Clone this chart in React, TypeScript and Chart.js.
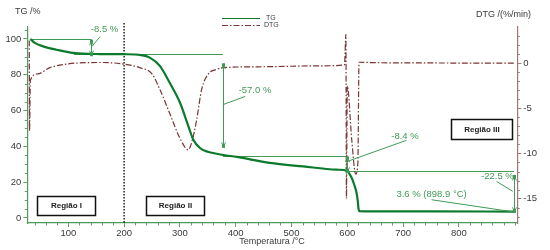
import React, { useEffect, useRef } from "react";
import { Chart, registerables } from "chart.js";
Chart.register(...registerables);

// ---- data ----
const tgTemp = [32, 40, 55, 79, 109, 157, 200, 230, 246, 264, 282, 300, 315, 324, 336, 350, 366, 378, 402, 461, 521, 581, 599, 603, 608, 612, 616, 619, 620, 621.5, 650, 750, 898.9];
const tgVal = [100, 97.8, 95.9, 94, 92.2, 91.6, 91.5, 91.0, 89.6, 85, 75.4, 64.5, 51.5, 43.7, 39.1, 37, 35.9, 35.2, 34.1, 30.8, 28.8, 27.0, 26.4, 25, 22.3, 19, 14.9, 9, 5.5, 3.8, 3.7, 3.65, 3.6];

const dtgTemp = [30, 30.5, 32, 45, 67, 97, 130, 157, 199, 228, 250, 264, 282, 300, 315, 321, 330, 339, 351, 365, 378, 450, 550, 595, 597.5, 598.5, 600, 608, 615, 619, 621, 650, 750, 850, 898.9];
const dtgVal = [2.5, -7.5, -1.9, -1.2, -0.5, -0.1, 0.05, 0.07, -0.1, -0.5, -1.2, -2.9, -5.6, -8.3, -9.6, -8.8, -6.3, -2.9, -1.2, -0.7, -0.5, -0.4, -0.3, -0.2, 3.2, -15.0, -2.5, -8.5, -12.3, -11, 0.1, 0.05, 0.02, 0.0, 0.0];

const xMajor = [100, 200, 300, 400, 500, 600, 700, 800];
const xMinor = [40, 60, 80, 120, 140, 160, 180, 220, 240, 260, 280, 320, 340, 360, 380, 420, 440, 460, 480, 520, 540, 560, 580, 620, 640, 660, 680, 720, 740, 760, 780, 820, 840, 860, 880, 900];
const yMajor = [0, 20, 40, 60, 80, 100];
const yMinor = [5, 10, 15, 25, 30, 35, 45, 50, 55, 65, 70, 75, 85, 90, 95, 105];
const y2Major = [-15, -10, -5, 0];
const y2Minor = [-17, -16, -14, -13, -12, -11, -9, -8, -7, -6, -4, -3, -2, -1, 1, 2, 3];

// region boxes (temperature range, TG % range)
const regionLabels = ["Região I", "Região II", "Região III"];
const regionX1 = [43, 239, 786];
const regionX2 = [148, 343, 895];
const regionY1 = [1.5, 1.5, 44.1];
const regionY2 = [12.4, 12.4, 55.3];

// horizontal step lines (temperature from, to, TG %)
const stepX1 = [32, 110, 377, 600];
const stepX2 = [142, 377, 600, 898.9];
const stepY = [100, 91.7, 34.4, 26.4];

// vertical arrows (temperature, TG % from, to)
const arrowX = [140, 377, 600, 898.9];
const arrowY1 = [98.7, 85.6, 33.5, 23.2];
const arrowY2 = [91.2, 40, 26.0, 3.7];

// annotation texts and leader lines
const noteText = ["-8.5 %", "-57.0 %", "-8.4 %", "-22.5 %", "3.6 % (898.9 °C)"];
const noteX = [165, 434.6, 703.4, 869, 751];
const noteY = [105.2, 71.3, 45.6, 23.2, 13.0];
const leadX1 = [142, 377, 600, 867.7, 751];
const leadY1 = [95.8, 63.3, 31.6, 20.4, 10.2];
const leadX2 = [157, 417, 706, 896.5, 897.5];
const leadY2 = [101.3, 67.9, 43.4, 14.9, 3.4];

const boundaryT = 200;

const GREEN = "#0b7a2c";
const ANN = "#3f9a55";
const MAROON = "#7a3535";
const RAXIS = "#a07575";
const TXT = "#3a3a3a";
const FONT = "Liberation Sans, Arial, sans-serif";

function arrowHead(ctx: CanvasRenderingContext2D, x: number, y: number, dir: number) {
  ctx.beginPath();
  ctx.moveTo(x - 2, y - dir * 4);
  ctx.lineTo(x, y);
  ctx.lineTo(x + 2, y - dir * 4);
  ctx.stroke();
}

const annPlugin = {
  id: "ann",
  beforeDatasetsDraw(chart: any) {
    const ctx = chart.ctx;
    const x = chart.scales.x;
    const y = chart.scales.y;
    ctx.save();
    ctx.strokeStyle = "#111";
    ctx.lineWidth = 1.4;
    ctx.setLineDash([1.5, 1.5]);
    const px = x.getPixelForValue(boundaryT);
    ctx.beginPath();
    ctx.moveTo(px, chart.chartArea.top - 4);
    ctx.lineTo(px, chart.chartArea.bottom);
    ctx.stroke();
    ctx.setLineDash([]);
    ctx.strokeStyle = ANN;
    ctx.lineWidth = 1;
    for (let i = 0; i < stepY.length; i++) {
      const yy = Math.round(y.getPixelForValue(stepY[i])) + 0.5;
      ctx.beginPath();
      ctx.moveTo(x.getPixelForValue(stepX1[i]), yy);
      ctx.lineTo(x.getPixelForValue(stepX2[i]), yy);
      ctx.stroke();
    }
    ctx.restore();
  },
  afterDatasetsDraw(chart: any) {
    const ctx = chart.ctx;
    const x = chart.scales.x;
    const y = chart.scales.y;
    const y2 = chart.scales.y2;
    ctx.save();
    ctx.strokeStyle = ANN;
    ctx.fillStyle = ANN;
    ctx.lineWidth = 1;
    for (let i = 0; i < arrowX.length; i++) {
      const ax = Math.round(x.getPixelForValue(arrowX[i])) + 0.5;
      const a1 = y.getPixelForValue(arrowY1[i]);
      const a2 = y.getPixelForValue(arrowY2[i]);
      ctx.beginPath();
      ctx.moveTo(ax, a1);
      ctx.lineTo(ax, a2);
      ctx.stroke();
      arrowHead(ctx, ax, a1, -1);
      arrowHead(ctx, ax, a2, 1);
      ctx.fillRect(ax - 1.5, a1 - 1.5, 3, 3);
      ctx.fillRect(ax - 1.5, a2 - 1.5, 3, 3);
    }
    for (let i = 0; i < leadX1.length; i++) {
      ctx.beginPath();
      ctx.moveTo(x.getPixelForValue(leadX1[i]), y.getPixelForValue(leadY1[i]));
      ctx.lineTo(x.getPixelForValue(leadX2[i]), y.getPixelForValue(leadY2[i]));
      ctx.stroke();
    }
    ctx.font = `9.5px ${FONT}`;
    ctx.textAlign = "center";
    ctx.textBaseline = "middle";
    for (let i = 0; i < noteText.length; i++) {
      ctx.fillText(noteText[i], x.getPixelForValue(noteX[i]), y.getPixelForValue(noteY[i]));
    }
    ctx.font = `bold 8px ${FONT}`;
    for (let i = 0; i < regionLabels.length; i++) {
      const bx1 = Math.round(x.getPixelForValue(regionX1[i])) + 0.5;
      const bx2 = Math.round(x.getPixelForValue(regionX2[i])) + 0.5;
      const by1 = Math.round(y.getPixelForValue(regionY2[i])) + 0.5;
      const by2 = Math.round(y.getPixelForValue(regionY1[i])) + 0.5;
      ctx.fillStyle = "#fff";
      ctx.fillRect(bx1, by1, bx2 - bx1, by2 - by1);
      ctx.strokeStyle = "#111";
      ctx.lineWidth = 1.5;
      ctx.strokeRect(bx1, by1, bx2 - bx1, by2 - by1);
      ctx.fillStyle = "#222";
      ctx.fillText(regionLabels[i], (bx1 + bx2) / 2, (by1 + by2) / 2);
    }
    ctx.lineWidth = 1;
    ctx.strokeStyle = "#6a9a70";
    const xb = chart.chartArea.bottom;
    for (const v of xMinor) {
      const p = Math.round(x.getPixelForValue(v)) + 0.5;
      ctx.beginPath(); ctx.moveTo(p, xb); ctx.lineTo(p, xb + 2.5); ctx.stroke();
    }
    const yl = chart.chartArea.left;
    for (const v of yMinor) {
      const p = Math.round(y.getPixelForValue(v)) + 0.5;
      ctx.beginPath(); ctx.moveTo(yl, p); ctx.lineTo(yl - 2.5, p); ctx.stroke();
    }
    ctx.strokeStyle = RAXIS;
    const yr = chart.chartArea.right;
    for (const v of y2Minor) {
      const p = Math.round(y2.getPixelForValue(v)) + 0.5;
      ctx.beginPath(); ctx.moveTo(yr, p); ctx.lineTo(yr + 2.5, p); ctx.stroke();
    }
    ctx.fillStyle = TXT;
    ctx.font = `9px ${FONT}`;
    ctx.textBaseline = "middle";
    ctx.textAlign = "left";
    ctx.fillText("TG /%", 15, 12);
    ctx.fillText("DTG /(%/min)", 476, 15);
    ctx.textAlign = "center";
    ctx.fillText("Temperatura /°C", 272, 242);
    ctx.font = `7px ${FONT}`;
    ctx.textAlign = "left";
    ctx.strokeStyle = GREEN;
    ctx.lineWidth = 1.2;
    ctx.beginPath(); ctx.moveTo(222, 18.5); ctx.lineTo(260, 18.5); ctx.stroke();
    ctx.fillText(chart.data.datasets[0].label, 266, 18.5);
    ctx.strokeStyle = MAROON;
    ctx.setLineDash([6, 2, 1.5, 2]);
    ctx.beginPath(); ctx.moveTo(222, 25.5); ctx.lineTo(260, 25.5); ctx.stroke();
    ctx.setLineDash([]);
    ctx.fillText(chart.data.datasets[1].label, 264, 25.5);
    ctx.restore();
  },
};

export default function App() {
  const ref = useRef<HTMLCanvasElement | null>(null);
  useEffect(() => {
    if (!ref.current) return;
    const tickFont = { family: FONT, size: 9.5 };
    const chart = new Chart(ref.current, {
      type: "line",
      data: {
        datasets: [
          {
            label: "TG",
            data: tgTemp.map((t, i) => ({ x: t, y: tgVal[i] })),
            borderColor: GREEN,
            borderWidth: 2.2,
            pointRadius: 0,
            cubicInterpolationMode: "monotone",
            yAxisID: "y",
          },
          {
            label: "DTG",
            data: dtgTemp.map((t, i) => ({ x: t, y: dtgVal[i] })),
            borderColor: MAROON,
            borderWidth: 1.2,
            borderDash: [6, 2, 1.5, 2],
            pointRadius: 0,
            cubicInterpolationMode: "monotone",
            yAxisID: "y2",
          },
        ],
      },
      options: {
        animation: false,
        responsive: false,
        maintainAspectRatio: false,
        layout: { padding: { top: 27, left: 0, right: 0, bottom: 0 } },
        plugins: { legend: { display: false }, tooltip: { enabled: false } },
        scales: {
          x: {
            type: "linear",
            min: 26.5,
            max: 904.7,
            afterFit: (s: any) => { s.height = 27; },
            afterBuildTicks: (s: any) => { s.ticks = xMajor.map((v) => ({ value: v })); },
            ticks: { color: TXT, font: tickFont, maxRotation: 0, autoSkip: false, padding: 1 },
            grid: { drawOnChartArea: false, tickLength: 4, color: "#6a9a70" },
            border: { color: "#4a9a5a", width: 1.2 },
          },
          y: {
            position: "left",
            min: -2.8,
            max: 106.7,
            afterFit: (s: any) => { s.width = 27.3; },
            afterBuildTicks: (s: any) => { s.ticks = yMajor.map((v) => ({ value: v })); },
            ticks: { color: TXT, font: tickFont, padding: 2 },
            grid: { drawOnChartArea: false, tickLength: 4, color: "#6a9a70" },
            border: { color: "#4a9a5a", width: 1.2 },
          },
          y2: {
            position: "right",
            min: -17.7,
            max: 4,
            afterFit: (s: any) => { s.width = 32.7; },
            afterBuildTicks: (s: any) => { s.ticks = y2Major.map((v) => ({ value: v })); },
            ticks: { color: TXT, font: tickFont, padding: 2 },
            grid: { drawOnChartArea: false, tickLength: 4, color: RAXIS },
            border: { color: RAXIS, width: 1.2 },
          },
        },
      },
      plugins: [annPlugin],
    } as any);
    return () => chart.destroy();
  }, []);
  return (
    <div style={{ position: "fixed", left: 0, top: 0, width: 550, height: 250, background: "#fff" }}>
      <canvas ref={ref} width={550} height={250} style={{ display: "block", width: 550, height: 250 }} />
    </div>
  );
}
